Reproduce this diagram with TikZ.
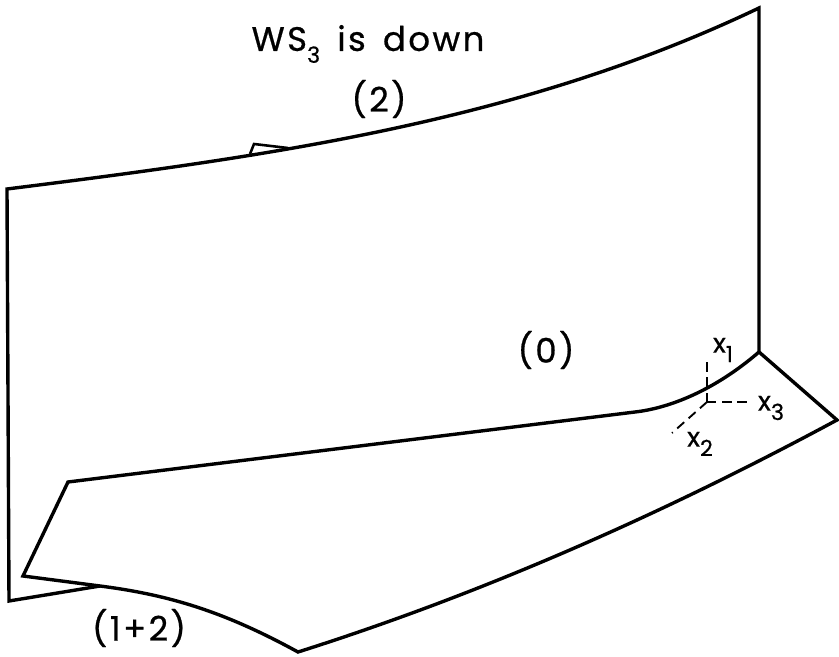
\documentclass[tikz,border=0pt]{standalone}
\usepackage{fontspec}
\setmainfont[FakeBold=0.6]{Poppins}
\newfontfamily\wideF[FakeBold=0.6,LetterSpace=7,WordSpace=1.5]{Poppins}
\usetikzlibrary{positioning}
\tikzset{
  sheet/.style={draw=black, line width=2.9pt, line join=miter},
  axis/.style={draw=black, line width=1.6pt, dash pattern=on 8pt off 5pt},
  flap/.style={draw=black, line width=2.2pt},
  regionL/.style={inner sep=0pt, font=\wideF\fontsize{29}{31}\selectfont},
  axisL/.style={inner sep=0pt, font=\fontsize{23}{25}\selectfont},
}
\newcommand{\subL}[1]{\raisebox{-0.35em}{\fontsize{19}{19}\selectfont #1}}
\begin{document}
\begin{tikzpicture}[x=0.03cm, y=-0.03cm]
    \useasboundingbox (0,0) rectangle (839,657);
    \foreach \n/\p in {tl/{7,189},tr/{759,8},fold/{759,352},bl/{9,601},tip/{837,420},
                       low/{298,652},wing/{23,576},neck/{68,482},bend/{635,412},
                       meet/{100,586},o/{707,402}}{
      \coordinate (\n) at (\p);
    }
    \coordinate (x1end) at (707,361);
    \coordinate (x2end) at (672,433);
    \coordinate (x3end) at (750,402);
    \draw[sheet] (meet) -- (bl) -- (tl)
      .. controls (270,156) and (520,122) .. (tr) -- (fold);
    \draw[sheet] (fold) -- (tip)
      .. controls (657,517) and (478,595) .. (low)
      .. controls (225,612) and (170,595) .. (meet) -- (wing) -- (neck) -- (bend)
      .. controls (670,408) and (715,390) .. (fold);
    \draw[flap] (250,154) -- (254,144) -- (288,148);
    \draw[axis] (o) -- (x1end);
    \draw[axis] (o) -- (x2end);
    \draw[axis] (o) -- (x3end);
    \node[regionL] (title) at (368,44) {WS\subL{3} is down};
    \node[regionL] (two) at (379,99) {(2)};
    \node[regionL] (zero) at (546,350) {(0)};
    \node[regionL] (onetwo) at (139,628) {(1+2)};
    \node[axisL] (xone) at (723,350) {x\subL{1}};
    \node[axisL] (xtwo) at (700,444) {x\subL{2}};
    \node[axisL] (xthree) at (771,408) {x\subL{3}};
\end{tikzpicture}
\end{document}
